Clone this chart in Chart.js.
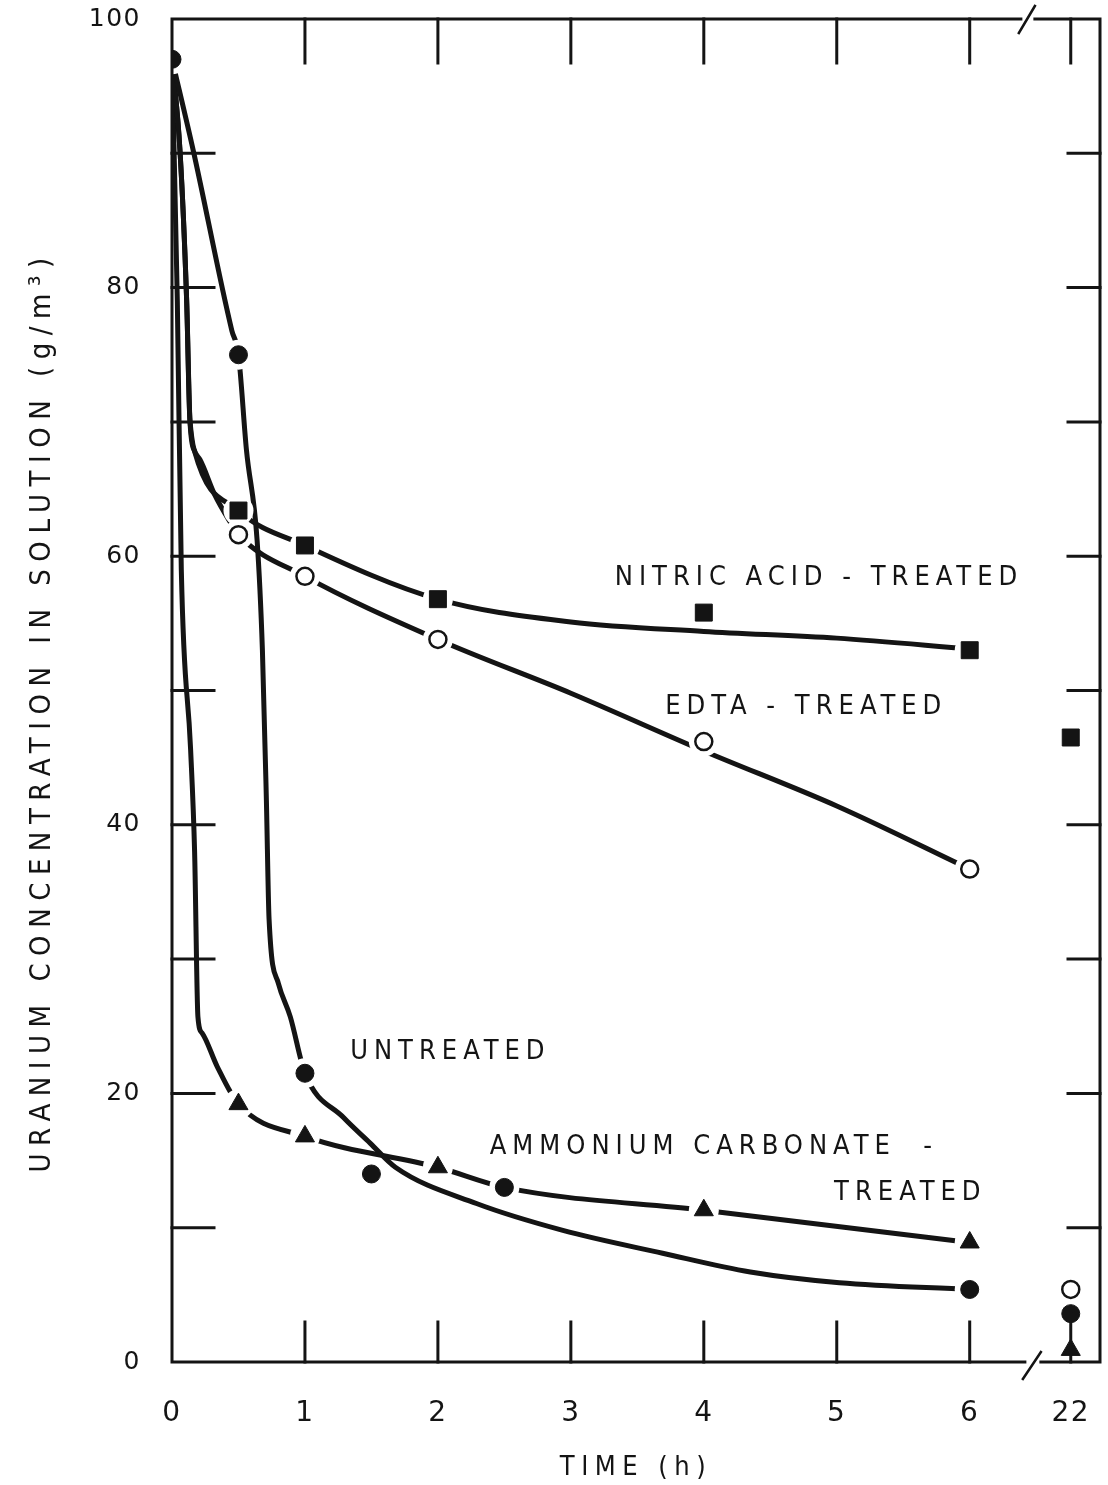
<!DOCTYPE html>
<html>
<head>
<meta charset="utf-8">
<script src="https://cdn.jsdelivr.net/npm/chart.js@4.4.0/dist/chart.umd.min.js"></script>
<style>
  html, body { margin: 0; padding: 0; background: #fff; }
  #wrap { width: 1108px; height: 1485px; }
</style>
</head>
<body>
<div id="wrap"><canvas id="uChart"></canvas></div>
<script>
// time axis is broken after 6 h, 22 h sits just before the right edge
const BREAK_AT = 6.76;
const X_MAX = 6.98;
const INK = '#141414';
const FONT = "'DejaVu Sans Condensed', 'DejaVu Sans', sans-serif";
const NUM_FONT = "'DejaVu Sans', sans-serif";

const timeTicks = [0, 1, 2, 3, 4, 5, 6, 22];
const yLabels = [0, 20, 40, 60, 80, 100];

// measured points (markers)
const untreatedT = [0, 0.5, 1, 1.5, 2.5, 6, 22];
const untreatedU = [97, 75, 21.5, 14, 13, 5.4, 3.6];
const nitricT = [0.5, 1, 2, 4, 6, 22];
const nitricU = [63.4, 60.8, 56.8, 55.8, 53.0, 46.5];
const edtaT = [0.5, 1, 2, 4, 6, 22];
const edtaU = [61.6, 58.5, 53.8, 46.2, 36.7, 5.4];
const ammT = [0.5, 1, 2, 4, 6, 22];
const ammU = [19.2, 16.8, 14.5, 11.3, 8.9, 0.9];

// drawn (fitted) curves
const untreatedCurveT = [0, 0.16, 0.45, 0.5, 0.56, 0.64, 0.68, 0.71, 0.73, 0.8, 0.89, 1, 1.29, 1.49, 1.68, 2.29, 2.94, 3.69, 4.35, 5.02, 6];
const untreatedCurveU = [97, 90.2, 76.8, 75, 67.9, 61.2, 53, 41.8, 33, 28.2, 25.7, 21.5, 18.2, 16.3, 14.5, 11.8, 9.8, 8.1, 6.7, 5.9, 5.4];
const nitricCurveT = [0, 0.06, 0.11, 0.135, 0.17, 0.5, 1, 2, 3, 4, 5, 6];
const nitricCurveU = [97, 90.2, 79.1, 70.1, 67.8, 63.4, 60.8, 56.8, 55.1, 54.4, 53.9, 53.1];
const edtaCurveT = [0, 0.06, 0.11, 0.135, 0.21, 0.32, 0.44, 0.5, 1, 2, 3, 4, 5, 6];
const edtaCurveU = [97, 90.2, 79.1, 70.1, 67.2, 64.6, 62.5, 61.6, 58.5, 53.8, 49.8, 45.5, 41.4, 36.7];
const ammCurveT = [0, 0.04, 0.07, 0.14, 0.17, 0.195, 0.226, 0.34, 0.5, 1, 2, 2.5, 4, 6];
const ammCurveU = [97, 79, 59, 45.6, 38, 25.7, 24.5, 22, 19.2, 16.8, 14.5, 13.0, 11.3, 8.9];

const xPos = t => (t === 22 ? BREAK_AT : t);
const pts = (T, U) => T.map((t, i) => ({ x: xPos(t), y: U[i] }));

function curve(T, U) {
  return {
    data: pts(T, U), showLine: true, borderColor: INK, borderWidth: 5,
    pointRadius: 0, cubicInterpolationMode: 'monotone', fill: false, order: 3
  };
}
function marks(T, U, style, radius, filled) {
  return {
    data: pts(T, U), showLine: false, pointStyle: style, pointRadius: radius,
    backgroundColor: filled ? INK : '#fff', borderColor: INK, borderWidth: filled ? 1 : 2.5,
    order: 1
  };
}

const allT = [].concat(untreatedT, nitricT, edtaT, ammT);
const allU = [].concat(untreatedU, nitricU, edtaU, ammU);

const notes = [
  { text: 'NITRIC ACID - TREATED', t: 3.33, v: 58.4 },
  { text: 'EDTA - TREATED', t: 3.71, v: 48.8 },
  { text: 'UNTREATED', t: 1.34, v: 23.1 },
  { text: 'AMMONIUM CARBONATE  -', t: 2.39, v: 16.0 },
  { text: 'TREATED', t: 4.98, v: 12.6 }
];

const spacing = {
  id: 'spacing',
  beforeUpdate(chart) { chart.ctx.letterSpacing = '1.5px'; },
  beforeDraw(chart) { chart.ctx.letterSpacing = '1.5px'; }
};

const frame = {
  id: 'frame',
  afterDraw(chart) {
    const { ctx, chartArea: { left, right, top, bottom }, scales: { x, y } } = chart;
    ctx.save();
    ctx.strokeStyle = INK;
    ctx.lineWidth = 3;
    ctx.lineCap = 'square';
    const bx = x.getPixelForValue(6.43);
    ctx.beginPath();
    ctx.moveTo(left, top); ctx.lineTo(bx - 6, top);
    ctx.moveTo(bx + 8, top); ctx.lineTo(right, top);
    ctx.lineTo(right, bottom); ctx.lineTo(bx + 14, bottom);
    ctx.moveTo(bx - 2, bottom); ctx.lineTo(left, bottom); ctx.lineTo(left, top);
    ctx.stroke();
    // break marks
    ctx.lineWidth = 2.5;
    ctx.beginPath();
    ctx.moveTo(bx - 8, top + 14); ctx.lineTo(bx + 8, top - 13);
    ctx.moveTo(bx - 4, bottom + 17); ctx.lineTo(bx + 14, bottom - 10);
    ctx.stroke();
    // inward ticks
    ctx.lineWidth = 3;
    ctx.beginPath();
    for (let v = 10; v < 100; v += 10) {
      const py = y.getPixelForValue(v);
      ctx.moveTo(left, py); ctx.lineTo(left + 42, py);
      ctx.moveTo(right, py); ctx.lineTo(right - 32, py);
    }
    timeTicks.slice(1).forEach(t => {
      const px = x.getPixelForValue(xPos(t));
      ctx.moveTo(px, top); ctx.lineTo(px, top + 44);
      ctx.moveTo(px, bottom); ctx.lineTo(px, bottom - (t === 22 ? 48 : 40));
    });
    ctx.stroke();

    ctx.fillStyle = INK;
    ctx.textBaseline = 'middle';
    // curve labels
    ctx.font = '27px ' + FONT;
    ctx.letterSpacing = '6px';
    ctx.textAlign = 'left';
    notes.forEach(n => ctx.fillText(n.text, x.getPixelForValue(n.t), y.getPixelForValue(n.v)));
    // axis titles
    ctx.textAlign = 'center';
    ctx.letterSpacing = '6.5px';
    ctx.fillText('TIME (h)', (left + right) / 2, chart.height - 17);
    ctx.font = '29px ' + FONT;
    ctx.letterSpacing = '7.5px';
    ctx.translate(42, (top + bottom) / 2 + 21);
    ctx.rotate(-Math.PI / 2);
    ctx.fillText('URANIUM CONCENTRATION IN SOLUTION (g/m³)', 0, 0);
    ctx.restore();
  }
};

new Chart(document.getElementById('uChart'), {
  type: 'scatter',
  data: {
    datasets: [
      curve(untreatedCurveT, untreatedCurveU),
      curve(nitricCurveT, nitricCurveU),
      curve(edtaCurveT, edtaCurveU),
      curve(ammCurveT, ammCurveU),
      // white halo that opens the lines round every marker
      { data: pts(allT, allU), showLine: false, pointRadius: 15, backgroundColor: '#fff', borderWidth: 0, order: 2 },
      marks(untreatedT, untreatedU, 'circle', 9, true),
      marks(nitricT, nitricU, 'rect', 12, true),
      marks(edtaT, edtaU, 'circle', 8.5, false),
      marks(ammT, ammU, 'triangle', 11, true)
    ]
  },
  options: {
    responsive: true,
    maintainAspectRatio: false,
    animation: false,
    events: [],
    layout: { autoPadding: false, padding: { top: 19, right: 8, left: 0, bottom: 0 } },
    plugins: { legend: { display: false }, tooltip: { enabled: false } },
    scales: {
      x: {
        type: 'linear', min: 0, max: X_MAX,
        grid: { display: false, drawTicks: false }, border: { display: false },
        afterBuildTicks: s => { s.ticks = timeTicks.map(t => ({ value: xPos(t) })); },
        afterFit: s => { s.height = 123; s.paddingLeft = 0; s.paddingRight = 0; },
        ticks: {
          color: INK, font: { family: NUM_FONT, size: 28 }, padding: 35, maxRotation: 0,
          callback: v => (v === BREAK_AT ? '22' : String(v))
        }
      },
      y: {
        type: 'linear', min: 0, max: 100,
        grid: { display: false, drawTicks: false }, border: { display: false },
        afterBuildTicks: s => { s.ticks = yLabels.map(v => ({ value: v })); },
        afterFit: s => { s.width = 172; s.paddingTop = 0; s.paddingBottom = 0; },
        ticks: { color: INK, font: { family: NUM_FONT, size: 25 }, padding: 31 }
      }
    }
  },
  plugins: [spacing, frame]
});
</script>
</body>
</html>
